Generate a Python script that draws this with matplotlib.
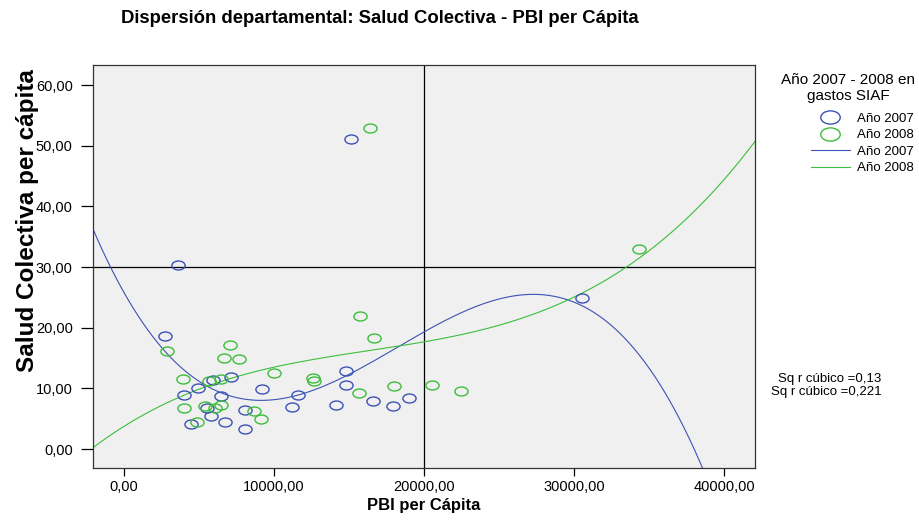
import numpy as np
import matplotlib
matplotlib.use('Agg')
import matplotlib.pyplot as plt
from matplotlib.path import Path
from matplotlib.transforms import Affine2D
from matplotlib.lines import Line2D

plt.rcParams['font.family'] = ['Liberation Sans', 'DejaVu Sans']

# PBI per capita (x) vs Salud Colectiva per capita (y)
pbi_2007 = [3580, 2755, 4911, 3978, 5911, 7133, 6444, 5511, 5778, 4444, 6733, 8089,
            8044, 9178, 11622, 11222, 14778, 14822, 14156, 16600, 17933, 19000,
            30511, 15111]
salud_2007 = [30.4, 18.6, 10.0, 9.0, 11.4, 11.9, 8.7, 6.8, 5.4, 4.1, 4.5, 3.4,
              6.4, 9.9, 9.0, 6.9, 12.9, 10.6, 7.3, 7.9, 7.1, 8.4,
              24.9, 51.1]
pbi_2008 = [2867, 7044, 6644, 7689, 3956, 5667, 6444, 10000, 12578, 12667, 4022,
            5400, 6089, 6444, 8644, 9111, 4844, 15756, 16667, 15644, 18000,
            20556, 22489, 34311, 16378]
salud_2008 = [16.2, 17.1, 15.0, 14.9, 11.6, 11.2, 11.6, 12.5, 11.7, 11.2, 6.8,
              7.1, 6.8, 7.2, 6.3, 4.9, 4.5, 21.9, 18.3, 9.2, 10.4,
              10.6, 9.6, 33.0, 53.0]
rsq_labels = ['Sq r cúbico =0,13', 'Sq r cúbico =0,221']
ref_x = 20000
ref_y = 30

blue = '#3D52B4'
green = '#3CBE3C'

# open ellipse marker like SPSS
ellipse = Path.unit_circle().transformed(Affine2D().scale(1.0, 0.68))

fig = plt.figure(figsize=(9.2, 5.2), dpi=100)
ax = fig.add_axes([0.101, 0.1, 0.72, 0.775])
ax.set_facecolor('#F0F0F0')

xmin, xmax = -2067, 42067
ax.set_xlim(xmin, xmax)
ax.set_ylim(-3.1, 63.3)

ax.axvline(ref_x, color='black', lw=0.9, zorder=1)
ax.axhline(ref_y, color='black', lw=0.9, zorder=1)

ax.plot(pbi_2007, salud_2007, ls='none', marker=ellipse, ms=9.5, mfc='none',
        mec=blue, mew=1.0, zorder=3)
ax.plot(pbi_2008, salud_2008, ls='none', marker=ellipse, ms=9.5, mfc='none',
        mec=green, mew=1.0, zorder=3)

# cubic fits over the whole axis range
xs = np.linspace(xmin, xmax, 400)
for xd, yd, c in [(pbi_2007, salud_2007, blue), (pbi_2008, salud_2008, green)]:
    coef = np.polyfit(np.array(xd) / 1e4, yd, 3)
    ax.plot(xs, np.polyval(coef, xs / 1e4), color=c, lw=0.8, zorder=2)

ax.set_xticks([0, 10000, 20000, 30000, 40000])
ax.set_xticklabels(['0,00', '10000,00', '20000,00', '30000,00', '40000,00'])
ax.set_yticks([0, 10, 20, 30, 40, 50, 60])
ax.set_yticklabels(['0,00', '10,00', '20,00', '30,00', '40,00', '50,00', '60,00'])
ax.tick_params(axis='y', direction='out', length=8.5, width=0.9, labelsize=10.5, pad=6)
ax.tick_params(axis='x', direction='out', length=5.5, width=0.9, labelsize=10.5, pad=3)
for s in ax.spines.values():
    s.set_color('#333333')
    s.set_linewidth(0.9)

ax.set_xlabel('PBI per Cápita', fontsize=12, fontweight='bold', labelpad=3)
ax.set_ylabel('Salud Colectiva per cápita', fontsize=17.5, fontweight='bold')
ax.yaxis.set_label_coords(-0.081, 0.613)
fig.text(0.413, 0.965, 'Dispersión departamental: Salud Colectiva - PBI per Cápita',
         ha='center', va='center', fontsize=13.3, fontweight='bold')

# legend title placed on its own, entries below it
fig.text(0.922, 0.831, 'Año 2007 - 2008 en\ngastos SIAF', ha='center', va='center',
         fontsize=11, linespacing=1.15)
handles = [
    Line2D([], [], ls='none', marker=ellipse, ms=14, mfc='none', mec=blue, mew=1.0),
    Line2D([], [], ls='none', marker=ellipse, ms=14, mfc='none', mec=green, mew=1.0),
    Line2D([], [], color=blue, lw=0.8),
    Line2D([], [], color=green, lw=0.8),
]
leg = fig.legend(handles, ['Año 2007', 'Año 2008', 'Año 2007', 'Año 2008'],
                 loc='upper left', bbox_to_anchor=(0.881, 0.784), frameon=False,
                 fontsize=9.5, handlelength=3.0, labelspacing=0.33,
                 handletextpad=0.5, borderpad=0, borderaxespad=0)

fig.text(0.958, 0.259, rsq_labels[0] + '\n' + rsq_labels[1], ha='right', va='center',
         fontsize=9.5, linespacing=1.1)

fig.savefig('out.png', dpi=100)
